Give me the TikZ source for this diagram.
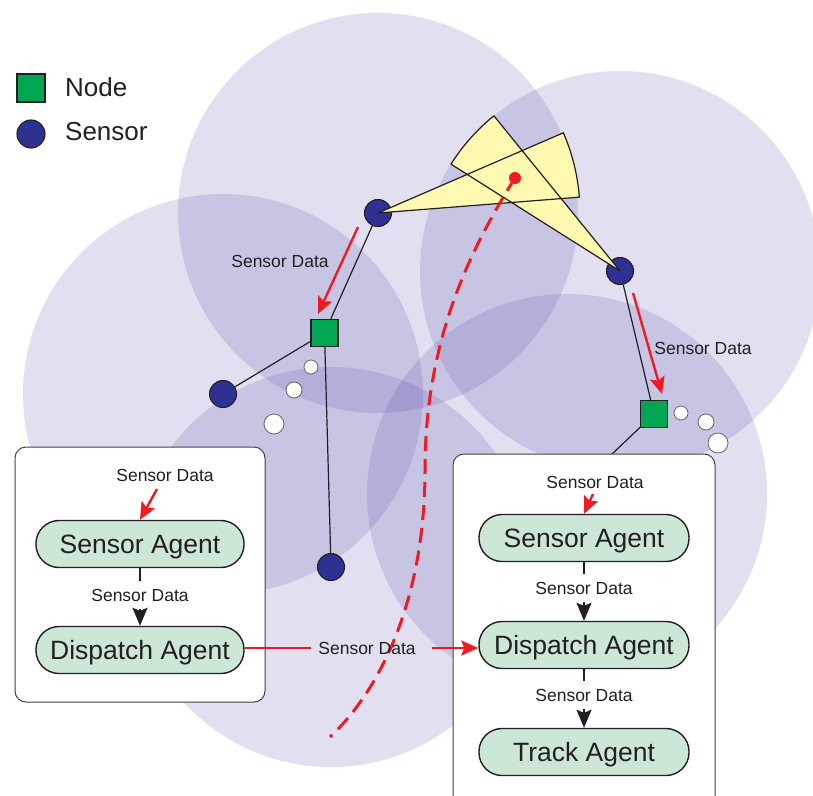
\documentclass[tikz,border=0pt]{standalone}
\usepackage{fontspec}
\setmainfont{Liberation Sans}
\usetikzlibrary{arrows.meta,calc,backgrounds}
\definecolor{cover}{RGB}{79,67,167}
\definecolor{sensorblue}{RGB}{46,49,146}
\definecolor{nodegreen}{RGB}{0,166,81}
\definecolor{agentfill}{RGB}{204,231,213}
\definecolor{fovfill}{RGB}{255,248,176}
\definecolor{tracered}{RGB}{237,28,36}
\definecolor{ink}{RGB}{35,31,32}

\begin{document}
\begin{tikzpicture}[x=1pt,y=1pt,
  coverage/.style={fill=cover,fill opacity=0.17},
  sensor/.style={circle,draw=ink,line width=1.1pt,fill=sensorblue,minimum size=27pt,inner sep=0pt},
  relay/.style={rectangle,draw=ink,line width=1.3pt,fill=nodegreen,minimum size=27pt,inner sep=0pt},
  hop/.style={circle,draw=ink!70,line width=0.8pt,fill=white,inner sep=0pt},
  link/.style={draw=ink,line width=1.2pt},
  fov/.style={draw=ink,line width=1.2pt,line join=round},
  agent/.style={rectangle,rounded corners=23pt,draw=ink,line width=1.4pt,fill=agentfill,
    minimum width=208pt,minimum height=47pt,inner sep=0pt,text=ink,
    text height=19pt,text depth=0pt,
    font=\fontsize{26.5}{30}\selectfont},
  panel/.style={draw=ink!85,line width=1pt,fill=white,rounded corners=11pt},
  msg/.style={font=\fontsize{17.5}{20}\selectfont,text=ink,inner xsep=1pt,inner ysep=8pt},
  flow/.style={draw=tracered,line width=2.4pt,-{Stealth[length=17pt,width=15pt,inset=3pt]}},
  pass/.style={draw=ink,line width=1.5pt},
  passarrow/.style={draw=ink,line width=1.5pt,-{Stealth[length=18pt,width=15pt,inset=3pt]}},
  track/.style={draw=tracered,line width=3pt,dash pattern=on 15pt off 8pt},
  legend/.style={font=\fontsize{26}{30}\selectfont,text=ink,anchor=west,inner sep=0pt}
]
\useasboundingbox (0,0) rectangle (813,-795);
\clip (0,0) rectangle (813,-795);

% sensor and relay positions
\coordinate (p1) at (378,-213);
\coordinate (p2) at (620,-271);
\coordinate (p3) at (223,-394);
\coordinate (p4) at (331,-567);
\coordinate (p5) at (567,-494);

% sensors and relay nodes
\node[sensor] (S1) at (p1) {};
\node[sensor] (S2) at (p2) {};
\node[sensor] (S3) at (p3) {};
\node[sensor] (S4) at (p4) {};
\node[relay] (N1) at (324.5,-333) {};
\node[relay] (N2) at (654,-414) {};
\coordinate (drop) at (611,-455);

\begin{scope}[on background layer]
  % sensing ranges
  \foreach \c in {p1,p2,p3,p4,p5}
    \fill[coverage] (\c) circle[radius=200pt];
  % wired links
  \draw[link] (S1) -- (N1);
  \draw[link] (N1) -- (S3);
  \draw[link] (N1) -- (S4);
  \draw[link] (S2) -- (N2);
  \draw[link] (N2) -- (drop);
\end{scope}

% multi-hop relays
\node[hop,minimum size=14pt] (h1) at (311,-367) {};
\node[hop,minimum size=16pt] (h2) at (294,-390) {};
\node[hop,minimum size=20pt] (h3) at (274,-424) {};
\node[hop,minimum size=14pt] (h4) at (681,-413) {};
\node[hop,minimum size=16pt] (h5) at (706,-422) {};
\node[hop,minimum size=20pt] (h6) at (718,-443) {};

% fields of view
\fill[fovfill] (S1.center) -- ++(4.5:202) arc[start angle=4.5,end angle=23.4,radius=202pt] -- cycle;
\fill[fovfill] (S2.center) -- ++(129.1:200) arc[start angle=129.1,end angle=147.7,radius=200pt] -- cycle;
\draw[fov] (S1.center) -- ++(4.5:202) arc[start angle=4.5,end angle=23.4,radius=202pt] -- cycle;
\draw[fov] (S2.center) -- ++(129.1:200) arc[start angle=129.1,end angle=147.7,radius=200pt] -- cycle;

% target and its track
\node[circle,fill=tracered,minimum size=12pt,inner sep=0pt] (tgt) at (515,-178) {};
\draw[track] (tgt.center) .. controls (470,-250) and (425,-340) .. (425,-470)
  .. controls (425,-600) and (380,-690) .. (330,-737);

% sensor data reports to relay nodes
\coordinate (a1s) at (358,-227);
\coordinate (a1e) at (318,-314);
\coordinate (a2s) at (633,-293);
\coordinate (a2e) at (662,-394);
\draw[flow] (a1s) -- (a1e);
\draw[flow] (a2s) -- (a2e);
\node[msg] (m1) at (280,-261) {Sensor Data};
\node[msg] (m2) at (703,-348) {Sensor Data};

% agent panels
\draw[panel] (15,-447) rectangle (265,-702);
\draw[panel] (453,-454) rectangle (715,-830);

\node[agent] (SA1) at (140,-544) {Sensor Agent};
\node[agent] (DA1) at (140,-650) {Dispatch Agent};
\node[agent,minimum width=210pt] (SA2) at (584,-538) {Sensor Agent};
\node[agent,minimum width=210pt] (DA2) at (584,-645) {Dispatch Agent};
\node[agent,minimum width=210pt] (TA2) at (584,-752) {Track Agent};

% incoming reports
\node[msg] (in1l) at (165,-475) {Sensor Data};
\node[msg] (in2l) at (595,-482) {Sensor Data};
\coordinate (in1) at (157,-489);
\coordinate (in2) at (593,-494);
\draw[flow] (in1) -- (SA1.north);
\draw[flow] (in2) -- (SA2.north);

% agent pipelines
\node[msg] (l1) at (140,-595) {Sensor Data};
\draw[pass] (SA1.south) -- (l1.north);
\draw[passarrow] (l1.south) -- (DA1.north);

\node[msg] (l2) at (584,-588) {Sensor Data};
\draw[pass] (SA2.south) -- (l2.north);
\draw[passarrow] (l2.south) -- (DA2.north);

\node[msg] (l3) at (584,-695) {Sensor Data};
\draw[pass] (DA2.south) -- (l3.north);
\draw[passarrow] (l3.south) -- (TA2.north);

% dispatch between agent platforms
\node[msg,inner xsep=0pt] (hl) at (367,-648) {Sensor Data};
\draw[tracered,line width=2.4pt] (DA1.east |- hl) -- ($(hl.west)+(-7,0)$);
\draw[flow] ($(hl.east)+(16,0)$) -- (DA2.west |- hl);

% legend
\node[relay,minimum size=28pt] (kN) at (31,-88) {};
\node[legend] (kNt) at (65,-87) {Node};
\node[sensor,minimum size=28pt] (kS) at (31,-134) {};
\node[legend] (kSt) at (65,-132) {Sensor};
\end{tikzpicture}
\end{document}
